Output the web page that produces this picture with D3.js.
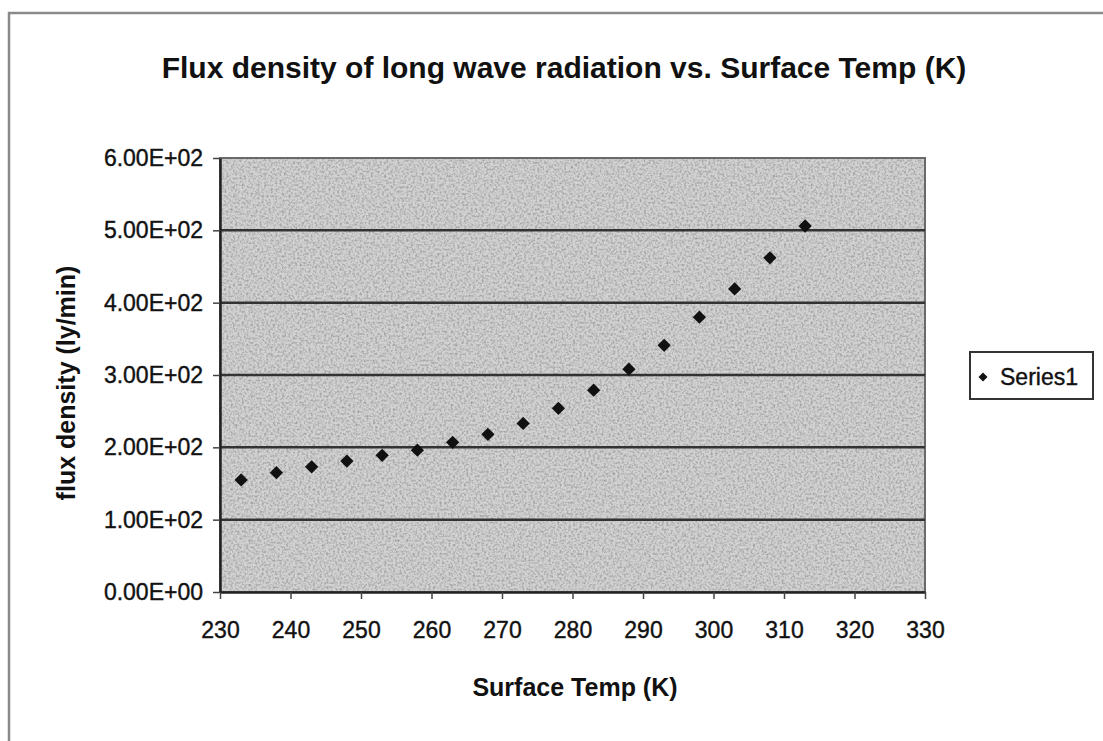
<!DOCTYPE html>
<meta charset="utf-8">
<script src="https://d3js.org/d3.v7.min.js"></script>
<html>
<style>
body { margin: 0; background: #fff; }
text { font-family: "Liberation Sans", Arial, sans-serif; fill: #111; }
</style>
<body>
<svg id="chart" width="1103" height="741"></svg>
<script>

// values
var temps = [233, 238, 243, 248, 253, 258, 263, 268, 273, 278, 283, 288, 293, 298, 303, 308, 313];
var flux  = [155, 165, 173, 181, 189, 196, 207, 218, 233, 254, 279, 308, 341, 380, 419, 462, 506];
var xTicks = [230, 240, 250, 260, 270, 280, 290, 300, 310, 320, 330];
var yTicks = [0, 100, 200, 300, 400, 500, 600];
var seriesName = "Series1";

var svg = d3.select("#chart");

// stippled grey texture for the plot area
var defs = svg.append("defs");
var f = defs.append("filter").attr("id", "grain")
  .attr("x", 0).attr("y", 0).attr("width", 1).attr("height", 1);
f.append("feTurbulence")
  .attr("type", "fractalNoise")
  .attr("baseFrequency", 0.45)
  .attr("numOctaves", 2)
  .attr("seed", 3)
  .attr("result", "noise");
f.append("feColorMatrix")
  .attr("type", "matrix")
  .attr("values", "0 0 0 0 0  0 0 0 0 0  0 0 0 0 0  0 0 0 -1.6 0.95");

// outer chart border (cut at the right and bottom)
svg.append("path")
  .attr("d", "M9,741 L9,13 L1103,13")
  .attr("fill", "none")
  .attr("stroke", "#8a8a8a")
  .attr("stroke-width", 2.5);

var x = d3.scaleLinear().domain([230, 330]).range([220, 925]);
var y = d3.scaleLinear().domain([0, 600]).range([592, 158]);

// plot area
svg.append("rect")
  .attr("x", x(230)).attr("y", y(600))
  .attr("width", x(330) - x(230)).attr("height", y(0) - y(600))
  .attr("fill", "#d2d2d2");
svg.append("rect")
  .attr("x", x(230)).attr("y", y(600))
  .attr("width", x(330) - x(230)).attr("height", y(0) - y(600))
  .attr("fill", "#fff")
  .attr("filter", "url(#grain)")
  .attr("opacity", 0.35);
svg.append("rect")
  .attr("x", x(230)).attr("y", y(600))
  .attr("width", x(330) - x(230)).attr("height", y(0) - y(600))
  .attr("fill", "none")
  .attr("stroke", "#6a6a6a")
  .attr("stroke-width", 2);

// gridlines
svg.append("g")
  .selectAll("line")
  .data(yTicks.filter(function(d) { return d > 0 && d < 600; }))
  .enter()
  .append("line")
    .attr("x1", x(230)).attr("x2", x(330))
    .attr("y1", function(d) { return y(d); })
    .attr("y2", function(d) { return y(d); })
    .attr("stroke", "#333")
    .attr("stroke-width", 2.5);

// axes
var xAxis = svg.append("g")
  .attr("transform", "translate(0," + y(0) + ")")
  .call(d3.axisBottom(x).tickValues(xTicks).tickSize(7).tickPadding(23).tickSizeOuter(0));
var yAxis = svg.append("g")
  .attr("transform", "translate(" + x(230) + ",0)")
  .call(d3.axisLeft(y).tickValues(yTicks).tickSize(7).tickPadding(10).tickSizeOuter(0)
    .tickFormat(function(d) {
      var e = d3.format(".2e")(d);  // e.g. 2.00e+2
      var parts = e.split("e");
      var exp = parts[1];
      var n = exp.slice(1);
      if (n.length < 2) n = "0" + n;
      return parts[0] + "E" + exp[0] + n;
    }));

[xAxis, yAxis].forEach(function(a) {
  a.selectAll(".domain").attr("stroke", "#222").attr("stroke-width", 2.5);
  a.selectAll(".tick line").attr("stroke", "#444").attr("stroke-width", 1.5);
  a.selectAll("text")
    .style("font-family", "'Liberation Sans', Arial, sans-serif")
    .style("font-size", "23px")
    .attr("fill", "#151515")
    .attr("stroke", "#151515")
    .attr("stroke-width", 0.4);
});

// points: square turned 45 degrees
var diamond = d3.symbol().type(d3.symbolSquare).size(88);
svg.append("g")
  .selectAll("path")
  .data(temps)
  .enter()
  .append("path")
    .attr("d", diamond)
    .attr("transform", function(d, i) { return "translate(" + x(d) + "," + y(flux[i]) + ") rotate(45)"; })
    .attr("fill", "#111");

// title
svg.append("text")
  .attr("x", 564).attr("y", 78)
  .attr("text-anchor", "middle")
  .style("font-size", "30px")
  .style("font-weight", "bold")
  .text("Flux density of long wave radiation vs. Surface Temp (K)");

// axis titles
svg.append("text")
  .attr("x", 575).attr("y", 696)
  .attr("text-anchor", "middle")
  .style("font-size", "25px")
  .style("font-weight", "bold")
  .text("Surface Temp (K)");

svg.append("text")
  .attr("transform", "translate(75,383) rotate(-90)")
  .attr("text-anchor", "middle")
  .style("font-size", "25px")
  .style("font-weight", "bold")
  .text("flux density (ly/min)");

// legend
var lg = svg.append("g").attr("transform", "translate(970,352)");
lg.append("rect")
  .attr("width", 123).attr("height", 47)
  .attr("fill", "#fff")
  .attr("stroke", "#333")
  .attr("stroke-width", 2);
lg.append("path")
  .attr("d", d3.symbol().type(d3.symbolSquare).size(40))
  .attr("transform", "translate(13,25) rotate(45)")
  .attr("fill", "#111");
lg.append("text")
  .attr("x", 30).attr("y", 33)
  .style("font-size", "23px")
  .attr("stroke", "#111")
  .attr("stroke-width", 0.4)
  .text(seriesName);

</script>
</body>
</html>
